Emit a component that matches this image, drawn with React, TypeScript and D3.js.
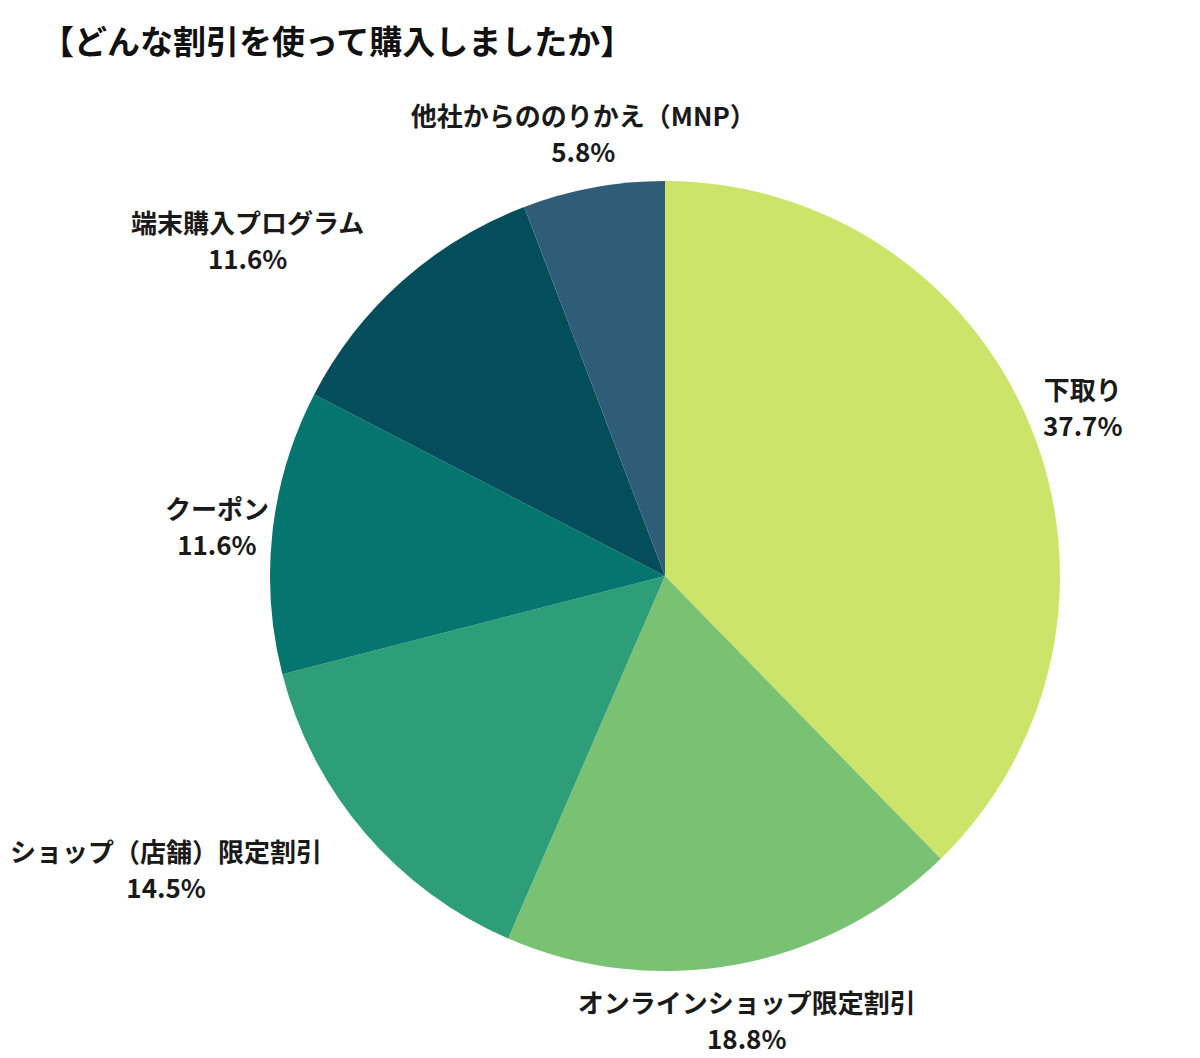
import React from "react";
import * as d3 from "d3";

const title = "【どんな割引を使って購入しましたか】";
const categories = [
  "下取り",
  "オンラインショップ限定割引",
  "ショップ（店舗）限定割引",
  "クーポン",
  "端末購入プログラム",
  "他社からののりかえ（MNP）",
];
const values = [37.7, 18.8, 14.5, 11.6, 11.6, 5.8];
const colors = ["#cde46a", "#79c274", "#2d9e78", "#04756f", "#044e5c", "#2f5d78"];

const W = 1200;
const H = 1058;
const cx = 665;
const cy = 576;
const R = 395;
const labelR = 451;
const fontSize = 26;
const lineGap = 18;
const font = "'Noto Sans CJK JP', 'Noto Sans', sans-serif";

let ctx: CanvasRenderingContext2D | null = null;
function measure(s: string): number {
  if (typeof document === "undefined") return s.length * fontSize;
  if (!ctx) ctx = document.createElement("canvas").getContext("2d");
  if (!ctx) return s.length * fontSize;
  ctx.font = `700 ${fontSize}px ${font}`;
  return ctx.measureText(s).width;
}

function overlapsPie(x0: number, x1: number, y0: number, y1: number) {
  const nx = Math.max(x0, Math.min(0, x1));
  const ny = Math.max(y0, Math.min(0, y1));
  return Math.hypot(nx, ny) < R;
}

export default function App() {
  const data = categories.map((c, i) => ({ c, v: values[i], color: colors[i] }));
  const pie = d3.pie<any>().value((d) => d.v).sort(null);
  const arcs = pie(data);
  const arc = d3.arc<any>().innerRadius(0).outerRadius(R);
  return (
    <svg
      width={W}
      height={H}
      style={{ position: "absolute", left: 0, top: 0, display: "block", background: "#fff" }}
    >
      <text
        x={41}
        y={40}
        fontFamily={font}
        fontWeight={700}
        fontSize={33}
        dominantBaseline="central"
        fill="#111"
      >
        {title}
      </text>
      <g transform={`translate(${cx},${cy})`}>
        {arcs.map((a, i) => (
          <path key={i} d={arc(a) as string} fill={a.data.color} />
        ))}
        {arcs.map((a, i) => {
          const mid = (a.startAngle + a.endAngle) / 2;
          const px = Math.sin(mid) * labelR;
          const py = -Math.cos(mid) * labelR;
          const pct = a.data.v.toFixed(1) + "%";
          const bw = Math.max(measure(a.data.c), measure(pct));
          const y0 = py - lineGap - fontSize / 2;
          const y1 = py + lineGap + fontSize / 2;
          let x = px;
          if (overlapsPie(px - bw / 2, px + bw / 2, y0, y1)) {
            x = px < 0 ? px - bw / 2 : px + bw / 2;
          }
          return (
            <g key={"l" + i} fontFamily={font} fontWeight={700} fontSize={fontSize} fill="#1a1a1a" textAnchor="middle">
              <text x={x} y={py - lineGap} dominantBaseline="central">
                {a.data.c}
              </text>
              <text x={x} y={py + lineGap} dominantBaseline="central">
                {pct}
              </text>
            </g>
          );
        })}
      </g>
    </svg>
  );
}
